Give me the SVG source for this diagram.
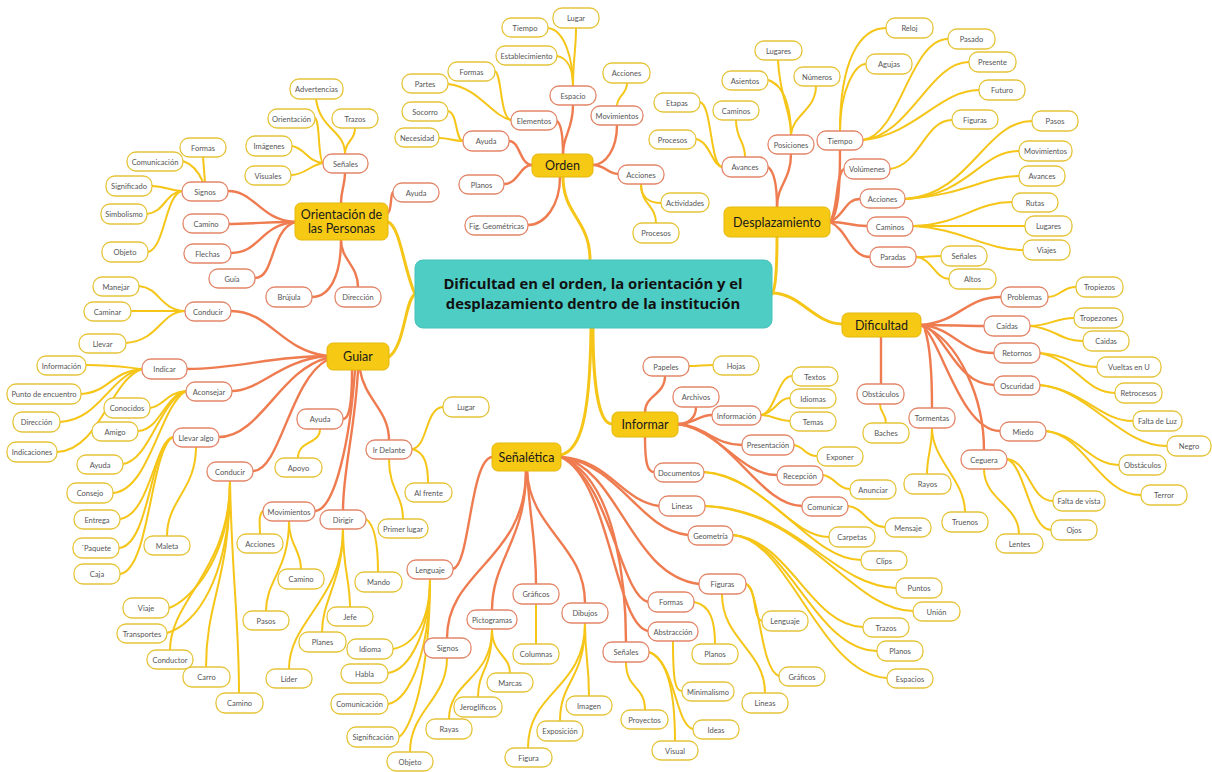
<svg xmlns="http://www.w3.org/2000/svg" width="1212" height="772" viewBox="0 0 1212 772">
<style>
.bg{fill:#ffffff}
.root rect{fill:#4ecdc4;stroke:#45c2b9;stroke-width:1;rx:8px}
.root text{font-family:"Open Sans","Noto Sans",sans-serif;font-weight:700;font-size:14.8px;fill:#111;text-anchor:middle}
.n1 rect{fill:#f6c915;stroke:#e5b70c;stroke-width:1;rx:6px}
.n1 text{font-family:Lato,"Liberation Sans",sans-serif;font-size:12.5px;fill:#1a1a1a;text-anchor:middle}
.n2 rect{fill:#fff;stroke:#e3876a;stroke-width:1.3;rx:9px}
.n3 rect{fill:#fff;stroke:#e6c43a;stroke-width:1.3;rx:9px}
.n2 text,.n3 text{font-family:Lato,"Liberation Sans",sans-serif;font-size:7.5px;fill:#555;text-anchor:middle}
.c1{fill:none;stroke:#f5c518;stroke-width:3;stroke-linecap:round}
.c2{fill:none;stroke:#ef7c50;stroke-width:2.4;stroke-linecap:round}
.c3{fill:none;stroke:#f5c518;stroke-width:2;stroke-linecap:round}
</style>
<rect class="bg" x="0" y="0" width="1212" height="772"/>
<g id="connectors">
<!-- central to main -->
<path class="c1" d="M563 177 C563 215 590 220 590 260"/>
<path class="c1" d="M777 237 C777 270 775 290 772 294"/>
<path class="c1" d="M772 293 C800 293 815 324 842 324"/>
<path class="c1" d="M593 328 C593 380 598 424 612 424"/>
<path class="c1" d="M561 455 C580 450 590 420 591 328"/>
<path class="c1" d="M388 222 C400 226 404 270 415 294"/>
<path class="c1" d="M415 294 C405 300 405 345 389 357"/>
<!-- Orden -->
<path class="c2" d="M573 105 C573 130 563 135 563 154"/>
<path class="c2" d="M557 121 C562 125 563 140 563 154"/>
<path class="c2" d="M617 125 C617 150 605 165 593 165"/>
<path class="c2" d="M593 165 C605 165 608 174 618 174"/>
<path class="c2" d="M532 165 C520 165 520 141 509 141"/>
<path class="c2" d="M532 165 C520 165 518 184 504 184"/>
<path class="c2" d="M560 177 C560 205 545 225 528 225"/>
<path class="c3" d="M573 86 C573 60 576 50 576 28"/>
<path class="c3" d="M548 28 C565 30 573 60 573 86"/>
<path class="c3" d="M557 56 C568 58 573 70 573 86"/>
<path class="c3" d="M617 106 C617 95 627 95 627 83"/>
<path class="c3" d="M495 71 C502 75 500 118 511 120"/>
<path class="c3" d="M448 84 C480 88 490 115 511 120"/>
<path class="c3" d="M448 111 C458 113 455 140 463 141"/>
<path class="c3" d="M439 138 C450 138 452 141 463 141"/>
<path class="c3" d="M641 184 C641 198 650 203 661 203"/>
<path class="c3" d="M641 184 C641 205 656 205 656 223"/>
<!-- Desplazamiento -->
<path class="c2" d="M791 154 C791 180 777 185 777 207"/>
<path class="c2" d="M768 167 C775 172 777 190 777 207"/>
<path class="c2" d="M840 150 C840 190 838 215 830 222"/>
<path class="c2" d="M830 222 C838 210 836 172 844 169"/>
<path class="c2" d="M830 222 C845 215 845 199 860 199"/>
<path class="c2" d="M830 222 C848 222 850 226 867 226"/>
<path class="c2" d="M830 222 C848 230 850 257 870 257"/>
<path class="c3" d="M778 60 C780 100 791 110 791 135"/>
<path class="c3" d="M768 80 C785 85 791 110 791 135"/>
<path class="c3" d="M816 86 C816 110 792 115 791 135"/>
<path class="c3" d="M700 102 C712 105 710 165 722 167"/>
<path class="c3" d="M736 120 C736 140 745 140 745 157"/>
<path class="c3" d="M696 139 C710 142 712 165 722 167"/>
<path class="c3" d="M840 131 C840 60 860 28 886 28"/>
<path class="c3" d="M840 131 C840 90 855 64 866 64"/>
<path class="c3" d="M863 140 C900 135 910 39 948 39"/>
<path class="c3" d="M863 140 C910 135 930 62 969 62"/>
<path class="c3" d="M863 140 C915 135 940 90 979 90"/>
<path class="c3" d="M890 169 C920 165 925 120 952 120"/>
<path class="c3" d="M905 199 C970 195 985 121 1032 121"/>
<path class="c3" d="M905 199 C970 195 980 151 1019 151"/>
<path class="c3" d="M905 199 C965 195 985 176 1019 176"/>
<path class="c3" d="M913 226 C960 225 975 202 1012 202"/>
<path class="c3" d="M913 226 C960 226 990 226 1025 226"/>
<path class="c3" d="M913 226 C960 228 985 250 1023 250"/>
<path class="c3" d="M916 257 C928 257 930 256 941 256"/>
<path class="c3" d="M916 257 C932 258 935 279 949 279"/>
<!-- Dificultad -->
<path class="c2" d="M921 325 C960 322 965 297 1001 297"/>
<path class="c2" d="M921 325 C955 325 960 326 984 326"/>
<path class="c2" d="M921 325 C955 328 960 353 994 353"/>
<path class="c2" d="M921 325 C945 330 955 385 994 385"/>
<path class="c2" d="M921 325 C940 335 960 431 1000 431"/>
<path class="c2" d="M921 325 C960 340 984 400 984 450"/>
<path class="c2" d="M925 330 C930 345 932 380 932 408"/>
<path class="c2" d="M881 337 L881 384"/>
<path class="c3" d="M1048 297 C1060 297 1062 287 1076 287"/>
<path class="c3" d="M1030 326 C1050 326 1055 318 1074 318"/>
<path class="c3" d="M1030 326 C1055 328 1060 341 1083 341"/>
<path class="c3" d="M1040 353 C1070 355 1075 367 1097 367"/>
<path class="c3" d="M1040 353 C1075 360 1085 393 1115 393"/>
<path class="c3" d="M1040 385 C1085 390 1100 421 1133 421"/>
<path class="c3" d="M1040 385 C1090 390 1120 446 1167 446"/>
<path class="c3" d="M1046 431 C1080 435 1090 465 1119 465"/>
<path class="c3" d="M1046 431 C1085 435 1100 495 1141 495"/>
<path class="c3" d="M1007 459 C1030 462 1030 501 1053 501"/>
<path class="c3" d="M1007 459 C1025 465 1030 530 1051 530"/>
<path class="c3" d="M984 469 C984 500 1019 505 1019 534"/>
<path class="c3" d="M932 428 C932 450 927 455 927 474"/>
<path class="c3" d="M932 428 C932 460 965 480 965 512"/>
<path class="c3" d="M880 404 C880 413 886 413 886 423"/>
<!-- Informar -->
<path class="c2" d="M645 412 C645 395 665 395 665 376"/>
<path class="c2" d="M696 407 C696 418 688 424 678 424"/>
<path class="c2" d="M678 424 C695 424 698 415 712 415"/>
<path class="c2" d="M678 424 C705 426 715 445 742 445"/>
<path class="c2" d="M678 424 C720 430 740 475 777 475"/>
<path class="c2" d="M678 424 C730 430 760 506 802 506"/>
<path class="c2" d="M645 437 C645 465 648 472 654 472"/>
<path class="c3" d="M689 366 C700 366 702 365 713 365"/>
<path class="c3" d="M761 415 C775 413 778 376 792 376"/>
<path class="c3" d="M761 415 C775 413 778 398 790 398"/>
<path class="c3" d="M761 415 C775 416 778 421 790 421"/>
<path class="c3" d="M794 445 C805 447 805 456 817 456"/>
<path class="c3" d="M823 475 C835 477 838 489 850 489"/>
<path class="c3" d="M848 506 C865 508 868 527 885 527"/>
<path class="c3" d="M704 472 C760 475 790 537 829 537"/>
<path class="c3" d="M704 472 C770 478 810 560 861 560"/>
<!-- Señalética -->
<path class="c2" d="M492 457 C470 460 470 565 453 569"/>
<path class="c2" d="M526 471 C526 560 447 570 447 638"/>
<path class="c2" d="M526 471 C526 540 492 560 492 610"/>
<path class="c2" d="M527 471 C530 520 536 540 536 584"/>
<path class="c2" d="M527 471 C530 530 585 545 585 603"/>
<path class="c2" d="M561 457 C620 480 626 600 626 642"/>
<path class="c2" d="M561 457 C610 480 615 625 648 631"/>
<path class="c2" d="M561 457 C610 480 620 595 648 602"/>
<path class="c2" d="M561 457 C620 470 630 575 699 584"/>
<path class="c2" d="M561 457 C620 465 640 530 688 535"/>
<path class="c2" d="M561 457 C610 460 620 500 659 506"/>
<path class="c3" d="M430 579 C430 620 415 645 393 649"/>
<path class="c3" d="M430 579 C430 630 410 670 388 673"/>
<path class="c3" d="M430 579 C430 650 410 700 388 704"/>
<path class="c3" d="M430 579 C430 680 410 730 399 737"/>
<path class="c3" d="M447 658 C447 700 410 710 410 752"/>
<path class="c3" d="M492 629 C492 680 449 680 449 719"/>
<path class="c3" d="M492 629 C492 670 478 670 478 697"/>
<path class="c3" d="M492 629 C492 655 510 655 510 673"/>
<path class="c3" d="M536 604 L536 644"/>
<path class="c3" d="M585 623 C585 660 589 660 589 696"/>
<path class="c3" d="M585 623 C585 680 560 680 560 721"/>
<path class="c3" d="M585 623 C585 690 528 690 528 748"/>
<path class="c3" d="M626 662 C626 690 645 685 645 710"/>
<path class="c3" d="M649 652 C670 660 675 700 675 741"/>
<path class="c3" d="M649 652 C675 660 675 725 693 729"/>
<path class="c3" d="M673 641 C673 680 675 691 682 691"/>
<path class="c3" d="M694 602 C710 605 715 620 715 644"/>
<path class="c3" d="M746 584 C757 588 752 618 762 621"/>
<path class="c3" d="M746 584 C760 590 760 670 779 676"/>
<path class="c3" d="M722 594 C722 640 765 650 765 693"/>
<path class="c3" d="M705 506 C800 510 830 585 896 588"/>
<path class="c3" d="M705 506 C810 512 850 610 913 611"/>
<path class="c3" d="M733 535 C790 540 810 625 863 627"/>
<path class="c3" d="M733 535 C790 540 815 650 877 651"/>
<path class="c3" d="M733 535 C790 540 820 675 887 678"/>
<!-- Guiar -->
<path class="c2" d="M327 356 C280 350 270 311 231 311"/>
<path class="c2" d="M327 356 C270 356 240 369 187 369"/>
<path class="c2" d="M327 356 C280 360 260 391 232 391"/>
<path class="c2" d="M327 358 C280 370 260 437 219 437"/>
<path class="c2" d="M327 360 C290 380 280 471 253 471"/>
<path class="c2" d="M352 370 C352 400 350 419 343 419"/>
<path class="c2" d="M355 370 C350 440 335 510 315 511"/>
<path class="c2" d="M358 370 C355 430 343 470 343 510"/>
<path class="c2" d="M360 370 C365 400 389 410 389 440"/>
<path class="c3" d="M185 311 C160 310 160 288 139 286"/>
<path class="c3" d="M185 311 C160 311 150 311 131 311"/>
<path class="c3" d="M185 311 C160 312 160 340 126 343"/>
<path class="c3" d="M142 369 C115 366 110 365 86 365"/>
<path class="c3" d="M142 369 C110 372 110 392 81 394"/>
<path class="c3" d="M142 369 C110 375 100 420 60 422"/>
<path class="c3" d="M142 369 C110 380 100 450 57 452"/>
<path class="c3" d="M186 391 C165 393 165 406 150 408"/>
<path class="c3" d="M186 391 C165 395 160 430 138 431"/>
<path class="c3" d="M186 391 C160 400 150 460 123 464"/>
<path class="c3" d="M186 391 C160 405 150 490 113 493"/>
<path class="c3" d="M173 437 C155 440 150 515 120 519"/>
<path class="c3" d="M173 437 C150 445 150 545 119 548"/>
<path class="c3" d="M173 437 C150 450 150 570 120 574"/>
<path class="c3" d="M196 447 C196 490 167 500 167 536"/>
<path class="c3" d="M230 481 C230 560 190 600 169 608"/>
<path class="c3" d="M230 481 C230 580 195 625 167 633"/>
<path class="c3" d="M230 481 C230 570 170 600 170 650"/>
<path class="c3" d="M230 481 C230 580 206 600 206 667"/>
<path class="c3" d="M230 481 C232 580 239 620 239 693"/>
<path class="c3" d="M320 429 C320 445 298 440 298 458"/>
<path class="c3" d="M412 449 C428 447 425 408 443 407"/>
<path class="c3" d="M412 449 C425 452 428 465 428 483"/>
<path class="c3" d="M389 459 C389 490 403 495 403 519"/>
<path class="c3" d="M263 511 C258 515 260 525 260 534"/>
<path class="c3" d="M289 521 C289 545 301 550 301 569"/>
<path class="c3" d="M289 521 C289 570 266 580 266 611"/>
<path class="c3" d="M366 519 C375 525 378 545 378 572"/>
<path class="c3" d="M343 529 C343 570 350 580 350 607"/>
<path class="c3" d="M343 529 C343 580 322 600 322 632"/>
<path class="c3" d="M343 529 C343 600 289 620 289 669"/>
<!-- Orientación -->
<path class="c2" d="M341 203 C341 190 345 185 345 173"/>
<path class="c2" d="M295 222 C260 220 255 191 228 191"/>
<path class="c2" d="M295 222 C260 222 250 224 229 224"/>
<path class="c2" d="M295 222 C260 225 260 253 231 253"/>
<path class="c2" d="M295 222 C270 230 275 278 255 278"/>
<path class="c2" d="M341 240 C341 275 330 297 312 297"/>
<path class="c2" d="M341 240 C341 260 358 265 358 287"/>
<path class="c2" d="M388 213 C392 210 390 195 393 192"/>
<path class="c3" d="M316 99 C320 130 345 130 345 154"/>
<path class="c3" d="M355 128 C355 142 345 140 345 154"/>
<path class="c3" d="M315 118 C320 120 318 160 323 163"/>
<path class="c3" d="M292 146 C305 148 308 162 323 163"/>
<path class="c3" d="M291 175 C305 175 310 165 323 163"/>
<path class="c3" d="M203 157 L205 182"/>
<path class="c3" d="M183 161 C195 165 200 175 203 182"/>
<path class="c3" d="M152 186 C165 186 170 191 182 191"/>
<path class="c3" d="M147 214 C165 212 165 193 182 191"/>
<path class="c3" d="M148 252 C165 248 165 195 182 191"/>
</g>

<g id="root" class="root"><rect x="415" y="260" width="357" height="68"/><text x="593" y="289">Dificultad en el orden, la orientación y el</text><text x="593" y="309">desplazamiento dentro de la institución</text></g>

<g id="main-orden" class="n1"><rect x="532" y="154" width="61" height="23"/><text x="562.5" y="170">Orden</text></g>
<g id="main-desplazamiento" class="n1"><rect x="724" y="207" width="106" height="30"/><text x="777" y="226.5">Desplazamiento</text></g>
<g id="main-dificultad" class="n1"><rect x="842" y="313" width="79" height="24"/><text x="881.5" y="329.5">Dificultad</text></g>
<g id="main-informar" class="n1"><rect x="612" y="412" width="66" height="25"/><text x="645" y="429">Informar</text></g>
<g id="main-senaletica" class="n1"><rect x="492" y="443" width="69" height="28"/><text x="526.5" y="461.5">Señalética</text></g>
<g id="main-guiar" class="n1"><rect x="327" y="343" width="62" height="27"/><text x="358" y="361">Guiar</text></g>
<g id="main-orientacion" class="n1"><rect x="295" y="203" width="93" height="37"/><text x="341.5" y="219">Orientación de</text><text x="341.5" y="233">las Personas</text></g>

<!-- Orden nodes -->
<g id="espacio" class="n2"><rect x="550" y="86" width="46" height="19"/><text x="573" y="98.5">Espacio</text></g>
<g id="movimientos1" class="n2"><rect x="591" y="106" width="52" height="19"/><text x="617" y="118.5">Movimientos</text></g>
<g id="elementos" class="n2"><rect x="511" y="111" width="46" height="19"/><text x="534" y="123.5">Elementos</text></g>
<g id="ayuda1" class="n2"><rect x="463" y="131" width="46" height="20"/><text x="486" y="144">Ayuda</text></g>
<g id="planos1" class="n2"><rect x="459" y="175" width="45" height="19"/><text x="481.5" y="187.5">Planos</text></g>
<g id="acciones1" class="n2"><rect x="618" y="165" width="46" height="19"/><text x="641" y="177.5">Acciones</text></g>
<g id="figgeom" class="n2"><rect x="465" y="216" width="63" height="19"/><text x="496.5" y="228.5">Fig. Geométricas</text></g>
<g id="lugar1" class="n3"><rect x="553" y="8" width="46" height="20"/><text x="576" y="21">Lugar</text></g>
<g id="tiempo1" class="n3"><rect x="502" y="18" width="46" height="19"/><text x="525" y="30.5">Tiempo</text></g>
<g id="establecimiento" class="n3"><rect x="496" y="46" width="61" height="19"/><text x="526.5" y="58.5">Establecimiento</text></g>
<g id="acciones1b" class="n3"><rect x="603" y="63" width="47" height="20"/><text x="626.5" y="76">Acciones</text></g>
<g id="formas1" class="n3"><rect x="448" y="62" width="47" height="19"/><text x="471.5" y="74.5">Formas</text></g>
<g id="partes" class="n3"><rect x="402" y="74" width="46" height="19"/><text x="425" y="86.5">Partes</text></g>
<g id="socorro" class="n3"><rect x="402" y="102" width="46" height="19"/><text x="425" y="114.5">Socorro</text></g>
<g id="necesidad" class="n3"><rect x="395" y="128" width="44" height="19"/><text x="417" y="140.5">Necesidad</text></g>
<g id="actividades" class="n3"><rect x="661" y="193" width="48" height="19"/><text x="685" y="205.5">Actividades</text></g>
<g id="procesos1" class="n3"><rect x="633" y="223" width="46" height="20"/><text x="656" y="236">Procesos</text></g>

<!-- Desplazamiento nodes -->
<g id="posiciones" class="n2"><rect x="768" y="135" width="46" height="19"/><text x="791" y="147.5">Posiciones</text></g>
<g id="avances" class="n2"><rect x="722" y="157" width="46" height="20"/><text x="745" y="170">Avances</text></g>
<g id="tiempo2" class="n2"><rect x="817" y="131" width="46" height="19"/><text x="840" y="143.5">Tiempo</text></g>
<g id="volumenes" class="n2"><rect x="844" y="159" width="46" height="20"/><text x="867" y="172">Volúmenes</text></g>
<g id="acciones2" class="n2"><rect x="860" y="189" width="45" height="19"/><text x="882.5" y="201.5">Acciones</text></g>
<g id="caminos2" class="n2"><rect x="867" y="217" width="46" height="19"/><text x="890" y="229.5">Caminos</text></g>
<g id="paradas" class="n2"><rect x="870" y="247" width="46" height="20"/><text x="893" y="260">Paradas</text></g>
<g id="lugares2" class="n3"><rect x="755" y="41" width="47" height="19"/><text x="778.5" y="53.5">Lugares</text></g>
<g id="asientos" class="n3"><rect x="722" y="71" width="46" height="19"/><text x="745" y="83.5">Asientos</text></g>
<g id="numeros" class="n3"><rect x="794" y="67" width="46" height="19"/><text x="817" y="79.5">Números</text></g>
<g id="etapas" class="n3"><rect x="654" y="93" width="46" height="19"/><text x="677" y="105.5">Etapas</text></g>
<g id="caminos2b" class="n3"><rect x="713" y="101" width="46" height="19"/><text x="736" y="113.5">Caminos</text></g>
<g id="procesos2" class="n3"><rect x="649" y="130" width="47" height="19"/><text x="672.5" y="142.5">Procesos</text></g>
<g id="reloj" class="n3"><rect x="886" y="18" width="47" height="20"/><text x="909.5" y="31">Reloj</text></g>
<g id="agujas" class="n3"><rect x="866" y="54" width="46" height="20"/><text x="889" y="67">Agujas</text></g>
<g id="pasado" class="n3"><rect x="948" y="29" width="47" height="20"/><text x="971.5" y="42">Pasado</text></g>
<g id="presente" class="n3"><rect x="969" y="52" width="47" height="20"/><text x="992.5" y="65">Presente</text></g>
<g id="futuro" class="n3"><rect x="979" y="80" width="46" height="20"/><text x="1002" y="93">Futuro</text></g>
<g id="figuras2" class="n3"><rect x="952" y="110" width="46" height="19"/><text x="975" y="122.5">Figuras</text></g>
<g id="pasos2" class="n3"><rect x="1032" y="111" width="46" height="20"/><text x="1055" y="124">Pasos</text></g>
<g id="movimientos2" class="n3"><rect x="1019" y="141" width="53" height="20"/><text x="1045.5" y="154">Movimientos</text></g>
<g id="avances2" class="n3"><rect x="1019" y="166" width="46" height="20"/><text x="1042" y="179">Avances</text></g>
<g id="rutas" class="n3"><rect x="1012" y="193" width="46" height="19"/><text x="1035" y="205.5">Rutas</text></g>
<g id="lugares2b" class="n3"><rect x="1025" y="216" width="47" height="20"/><text x="1048.5" y="229">Lugares</text></g>
<g id="viajes" class="n3"><rect x="1023" y="240" width="47" height="20"/><text x="1046.5" y="253">Viajes</text></g>
<g id="senales2" class="n3"><rect x="941" y="246" width="46" height="20"/><text x="964" y="259">Señales</text></g>
<g id="altos" class="n3"><rect x="949" y="269" width="47" height="20"/><text x="972.5" y="282">Altos</text></g>

<!-- Dificultad nodes -->
<g id="problemas" class="n2"><rect x="1001" y="287" width="47" height="20"/><text x="1024.5" y="300">Problemas</text></g>
<g id="caidas" class="n2"><rect x="984" y="316" width="46" height="20"/><text x="1007" y="329">Caídas</text></g>
<g id="retornos" class="n2"><rect x="994" y="343" width="46" height="20"/><text x="1017" y="356">Retornos</text></g>
<g id="oscuridad" class="n2"><rect x="994" y="376" width="46" height="19"/><text x="1017" y="388.5">Oscuridad</text></g>
<g id="miedo" class="n2"><rect x="1000" y="422" width="46" height="19"/><text x="1023" y="434.5">Miedo</text></g>
<g id="ceguera" class="n2"><rect x="961" y="450" width="46" height="19"/><text x="984" y="462.5">Ceguera</text></g>
<g id="tormentas" class="n2"><rect x="909" y="408" width="46" height="20"/><text x="932" y="421">Tormentas</text></g>
<g id="obstaculos" class="n2"><rect x="857" y="384" width="47" height="20"/><text x="880.5" y="397">Obstáculos</text></g>
<g id="tropiezos" class="n3"><rect x="1076" y="277" width="47" height="20"/><text x="1099.5" y="290">Tropiezos</text></g>
<g id="tropezones" class="n3"><rect x="1074" y="308" width="49" height="20"/><text x="1098.5" y="321">Tropezones</text></g>
<g id="caidas2" class="n3"><rect x="1083" y="331" width="46" height="20"/><text x="1106" y="344">Caidas</text></g>
<g id="vueltas" class="n3"><rect x="1097" y="357" width="64" height="20"/><text x="1129" y="370">Vueltas en U</text></g>
<g id="retrocesos" class="n3"><rect x="1115" y="383" width="47" height="20"/><text x="1138.5" y="396">Retrocesos</text></g>
<g id="faltaluz" class="n3"><rect x="1133" y="411" width="49" height="20"/><text x="1157.5" y="424">Falta de Luz</text></g>
<g id="negro" class="n3"><rect x="1167" y="436" width="44" height="20"/><text x="1189" y="449">Negro</text></g>
<g id="obstaculos2" class="n3"><rect x="1119" y="455" width="47" height="20"/><text x="1142.5" y="468">Obstáculos</text></g>
<g id="terror" class="n3"><rect x="1141" y="485" width="46" height="20"/><text x="1164" y="498">Terror</text></g>
<g id="faltavista" class="n3"><rect x="1053" y="491" width="52" height="20"/><text x="1079" y="504">Falta de vista</text></g>
<g id="ojos" class="n3"><rect x="1051" y="520" width="46" height="20"/><text x="1074" y="533">Ojos</text></g>
<g id="lentes" class="n3"><rect x="996" y="534" width="47" height="19"/><text x="1019.5" y="546.5">Lentes</text></g>
<g id="rayos1" class="n3"><rect x="904" y="474" width="47" height="20"/><text x="927.5" y="487">Rayos</text></g>
<g id="truenos" class="n3"><rect x="942" y="512" width="46" height="20"/><text x="965" y="525">Truenos</text></g>
<g id="baches" class="n3"><rect x="863" y="423" width="46" height="20"/><text x="886" y="436">Baches</text></g>

<!-- Informar nodes -->
<g id="papeles" class="n2"><rect x="643" y="357" width="46" height="19"/><text x="666" y="369.5">Papeles</text></g>
<g id="archivos" class="n2"><rect x="673" y="387" width="46" height="20"/><text x="696" y="400">Archivos</text></g>
<g id="informacion" class="n2"><rect x="712" y="406" width="49" height="19"/><text x="736.5" y="418.5">Información</text></g>
<g id="presentacion" class="n2"><rect x="742" y="435" width="52" height="20"/><text x="768" y="448">Presentación</text></g>
<g id="recepcion" class="n2"><rect x="777" y="466" width="46" height="19"/><text x="800" y="478.5">Recepción</text></g>
<g id="comunicar" class="n2"><rect x="802" y="497" width="46" height="19"/><text x="825" y="509.5">Comunicar</text></g>
<g id="documentos" class="n2"><rect x="654" y="463" width="50" height="19"/><text x="679" y="475.5">Documentos</text></g>
<g id="hojas" class="n3"><rect x="713" y="356" width="46" height="19"/><text x="736" y="368.5">Hojas</text></g>
<g id="textos" class="n3"><rect x="792" y="367" width="46" height="19"/><text x="815" y="379.5">Textos</text></g>
<g id="idiomas" class="n3"><rect x="790" y="389" width="46" height="19"/><text x="813" y="401.5">Idiomas</text></g>
<g id="temas" class="n3"><rect x="790" y="412" width="46" height="19"/><text x="813" y="424.5">Temas</text></g>
<g id="exponer" class="n3"><rect x="817" y="447" width="46" height="19"/><text x="840" y="459.5">Exponer</text></g>
<g id="anunciar" class="n3"><rect x="850" y="480" width="46" height="19"/><text x="873" y="492.5">Anunciar</text></g>
<g id="mensaje" class="n3"><rect x="885" y="518" width="46" height="19"/><text x="908" y="530.5">Mensaje</text></g>
<g id="carpetas" class="n3"><rect x="829" y="527" width="46" height="20"/><text x="852" y="540">Carpetas</text></g>
<g id="clips" class="n3"><rect x="861" y="551" width="46" height="19"/><text x="884" y="563.5">Clips</text></g>

<!-- Señalética nodes -->
<g id="lenguaje" class="n2"><rect x="407" y="560" width="46" height="19"/><text x="430" y="572.5">Lenguaje</text></g>
<g id="lineas" class="n2"><rect x="659" y="496" width="46" height="20"/><text x="682" y="509">Lineas</text></g>
<g id="geometria" class="n2"><rect x="688" y="526" width="45" height="19"/><text x="710.5" y="538.5">Geometría</text></g>
<g id="figuras3" class="n2"><rect x="699" y="574" width="47" height="20"/><text x="722.5" y="587">Figuras</text></g>
<g id="formas3" class="n2"><rect x="648" y="592" width="46" height="20"/><text x="671" y="605">Formas</text></g>
<g id="abstraccion" class="n2"><rect x="648" y="622" width="50" height="19"/><text x="673" y="634.5">Abstracción</text></g>
<g id="senales3" class="n2"><rect x="603" y="642" width="46" height="20"/><text x="626" y="655">Señales</text></g>
<g id="dibujos" class="n2"><rect x="562" y="603" width="46" height="20"/><text x="585" y="616">Dibujos</text></g>
<g id="graficos" class="n2"><rect x="513" y="584" width="46" height="20"/><text x="536" y="597">Gráficos</text></g>
<g id="pictogramas" class="n2"><rect x="467" y="610" width="50" height="19"/><text x="492" y="622.5">Pictogramas</text></g>
<g id="signos3" class="n2"><rect x="424" y="638" width="47" height="20"/><text x="447.5" y="651">Signos</text></g>
<g id="idioma" class="n3"><rect x="347" y="639" width="46" height="20"/><text x="370" y="652">Idioma</text></g>
<g id="habla" class="n3"><rect x="341" y="664" width="47" height="19"/><text x="364.5" y="676.5">Habla</text></g>
<g id="comunicacion3" class="n3"><rect x="331" y="694" width="57" height="20"/><text x="359.5" y="707">Comunicación</text></g>
<g id="significacion" class="n3"><rect x="347" y="727" width="52" height="20"/><text x="373" y="740">Significación</text></g>
<g id="objeto3" class="n3"><rect x="387" y="752" width="46" height="19"/><text x="410" y="764.5">Objeto</text></g>
<g id="rayos3" class="n3"><rect x="426" y="719" width="46" height="20"/><text x="449" y="732">Rayas</text></g>
<g id="jeroglificos" class="n3"><rect x="454" y="697" width="48" height="20"/><text x="478" y="710">Jeroglíficos</text></g>
<g id="marcas" class="n3"><rect x="487" y="673" width="46" height="19"/><text x="510" y="685.5">Marcas</text></g>
<g id="columnas" class="n3"><rect x="513" y="644" width="46" height="20"/><text x="536" y="657">Columnas</text></g>
<g id="imagen" class="n3"><rect x="566" y="696" width="46" height="19"/><text x="589" y="708.5">Imagen</text></g>
<g id="exposicion" class="n3"><rect x="537" y="721" width="46" height="20"/><text x="560" y="734">Exposición</text></g>
<g id="figura" class="n3"><rect x="505" y="748" width="47" height="19"/><text x="528.5" y="760.5">Figura</text></g>
<g id="proyectos" class="n3"><rect x="621" y="710" width="47" height="19"/><text x="644.5" y="722.5">Proyectos</text></g>
<g id="visual" class="n3"><rect x="652" y="741" width="46" height="19"/><text x="675" y="753.5">Visual</text></g>
<g id="ideas" class="n3"><rect x="693" y="720" width="46" height="19"/><text x="716" y="732.5">Ideas</text></g>
<g id="minimalismo" class="n3"><rect x="682" y="682" width="52" height="19"/><text x="708" y="694.5">Minimalismo</text></g>
<g id="planos3" class="n3"><rect x="692" y="644" width="46" height="20"/><text x="715" y="657">Planos</text></g>
<g id="lenguaje3" class="n3"><rect x="762" y="611" width="46" height="20"/><text x="785" y="624">Lenguaje</text></g>
<g id="graficos3" class="n3"><rect x="779" y="667" width="46" height="19"/><text x="802" y="679.5">Gráficos</text></g>
<g id="lineas3" class="n3"><rect x="742" y="693" width="46" height="20"/><text x="765" y="706">Lineas</text></g>
<g id="puntos" class="n3"><rect x="896" y="578" width="46" height="20"/><text x="919" y="591">Puntos</text></g>
<g id="union" class="n3"><rect x="913" y="602" width="47" height="19"/><text x="936.5" y="614.5">Unión</text></g>
<g id="trazos3" class="n3"><rect x="863" y="618" width="46" height="19"/><text x="886" y="630.5">Trazos</text></g>
<g id="planos4" class="n3"><rect x="877" y="641" width="46" height="20"/><text x="900" y="654">Planos</text></g>
<g id="espacios" class="n3"><rect x="887" y="669" width="46" height="19"/><text x="910" y="681.5">Espacios</text></g>

<!-- Guiar nodes -->
<g id="conducir1" class="n2"><rect x="185" y="302" width="46" height="19"/><text x="208" y="314.5">Conducir</text></g>
<g id="indicar" class="n2"><rect x="142" y="359" width="45" height="20"/><text x="164.5" y="372">Indicar</text></g>
<g id="aconsejar" class="n2"><rect x="186" y="382" width="46" height="19"/><text x="209" y="394.5">Aconsejar</text></g>
<g id="llevaralgo" class="n2"><rect x="173" y="428" width="46" height="19"/><text x="196" y="440.5">Llevar algo</text></g>
<g id="conducir2" class="n2"><rect x="207" y="462" width="46" height="19"/><text x="230" y="474.5">Conducir</text></g>
<g id="ayuda4" class="n2"><rect x="297" y="409" width="46" height="20"/><text x="320" y="422">Ayuda</text></g>
<g id="irdelante" class="n2"><rect x="366" y="440" width="46" height="19"/><text x="389" y="452.5">Ir Delante</text></g>
<g id="movimientos4" class="n2"><rect x="263" y="502" width="52" height="19"/><text x="289" y="514.5">Movimientos</text></g>
<g id="dirigir" class="n2"><rect x="320" y="510" width="46" height="19"/><text x="343" y="522.5">Dirigir</text></g>
<g id="manejar" class="n3"><rect x="93" y="277" width="46" height="19"/><text x="116" y="289.5">Manejar</text></g>
<g id="caminar" class="n3"><rect x="84" y="302" width="47" height="19"/><text x="107.5" y="314.5">Caminar</text></g>
<g id="llevar" class="n3"><rect x="79" y="334" width="47" height="19"/><text x="102.5" y="346.5">Llevar</text></g>
<g id="informacion4" class="n3"><rect x="37" y="356" width="49" height="19"/><text x="61.5" y="368.5">Información</text></g>
<g id="puntoencuentro" class="n3"><rect x="7" y="384" width="74" height="20"/><text x="44" y="397">Punto de encuentro</text></g>
<g id="direccion4" class="n3"><rect x="13" y="412" width="47" height="20"/><text x="36.5" y="425">Dirección</text></g>
<g id="indicaciones" class="n3"><rect x="7" y="442" width="50" height="20"/><text x="32" y="455">Indicaciones</text></g>
<g id="conocidos" class="n3"><rect x="104" y="398" width="46" height="20"/><text x="127" y="411">Conocidos</text></g>
<g id="amigo" class="n3"><rect x="92" y="422" width="46" height="19"/><text x="115" y="434.5">Amigo</text></g>
<g id="ayuda5" class="n3"><rect x="77" y="455" width="46" height="19"/><text x="100" y="467.5">Ayuda</text></g>
<g id="consejo" class="n3"><rect x="67" y="483" width="46" height="20"/><text x="90" y="496">Consejo</text></g>
<g id="entrega" class="n3"><rect x="74" y="510" width="46" height="19"/><text x="97" y="522.5">Entrega</text></g>
<g id="paquete" class="n3"><rect x="73" y="538" width="46" height="20"/><text x="96" y="551">´Paquete</text></g>
<g id="caja" class="n3"><rect x="74" y="564" width="46" height="20"/><text x="97" y="577">Caja</text></g>
<g id="maleta" class="n3"><rect x="144" y="536" width="46" height="19"/><text x="167" y="548.5">Maleta</text></g>
<g id="viaje" class="n3"><rect x="123" y="598" width="46" height="20"/><text x="146" y="611">Viaje</text></g>
<g id="transportes" class="n3"><rect x="117" y="624" width="50" height="19"/><text x="142" y="636.5">Transportes</text></g>
<g id="conductor" class="n3"><rect x="147" y="650" width="46" height="19"/><text x="170" y="662.5">Conductor</text></g>
<g id="carro" class="n3"><rect x="183" y="667" width="47" height="20"/><text x="206.5" y="680">Carro</text></g>
<g id="camino4" class="n3"><rect x="216" y="693" width="47" height="20"/><text x="239.5" y="706">Camino</text></g>
<g id="apoyo" class="n3"><rect x="275" y="458" width="47" height="19"/><text x="298.5" y="470.5">Apoyo</text></g>
<g id="lugar4" class="n3"><rect x="443" y="397" width="46" height="20"/><text x="466" y="410">Lugar</text></g>
<g id="alfrente" class="n3"><rect x="405" y="483" width="47" height="19"/><text x="428.5" y="495.5">Al frente</text></g>
<g id="primerlugar" class="n3"><rect x="378" y="519" width="50" height="19"/><text x="403" y="531.5">Primer lugar</text></g>
<g id="acciones4" class="n3"><rect x="237" y="534" width="46" height="19"/><text x="260" y="546.5">Acciones</text></g>
<g id="camino5" class="n3"><rect x="278" y="569" width="46" height="20"/><text x="301" y="582">Camino</text></g>
<g id="pasos4" class="n3"><rect x="243" y="611" width="46" height="19"/><text x="266" y="623.5">Pasos</text></g>
<g id="mando" class="n3"><rect x="355" y="572" width="47" height="20"/><text x="378.5" y="585">Mando</text></g>
<g id="jefe" class="n3"><rect x="327" y="607" width="46" height="19"/><text x="350" y="619.5">Jefe</text></g>
<g id="planes" class="n3"><rect x="299" y="632" width="47" height="20"/><text x="322.5" y="645">Planes</text></g>
<g id="lider" class="n3"><rect x="266" y="669" width="46" height="19"/><text x="289" y="681.5">Líder</text></g>

<!-- Orientación nodes -->
<g id="senales5" class="n2"><rect x="323" y="154" width="45" height="19"/><text x="345.5" y="166.5">Señales</text></g>
<g id="signos5" class="n2"><rect x="182" y="182" width="46" height="19"/><text x="205" y="194.5">Signos</text></g>
<g id="camino6" class="n2"><rect x="183" y="214" width="46" height="19"/><text x="206" y="226.5">Camino</text></g>
<g id="flechas" class="n2"><rect x="184" y="244" width="47" height="19"/><text x="207.5" y="256.5">Flechas</text></g>
<g id="guia" class="n2"><rect x="209" y="269" width="46" height="19"/><text x="232" y="281.5">Guía</text></g>
<g id="brujula" class="n2"><rect x="266" y="287" width="46" height="20"/><text x="289" y="300">Brújula</text></g>
<g id="direccion5" class="n2"><rect x="335" y="287" width="46" height="20"/><text x="358" y="300">Dirección</text></g>
<g id="ayuda6" class="n2"><rect x="393" y="183" width="46" height="19"/><text x="416" y="195.5">Ayuda</text></g>
<g id="advertencias" class="n3"><rect x="290" y="79" width="53" height="20"/><text x="316.5" y="92">Advertencias</text></g>
<g id="orientacion6" class="n3"><rect x="268" y="109" width="47" height="19"/><text x="291.5" y="121.5">Orientación</text></g>
<g id="trazos6" class="n3"><rect x="332" y="109" width="46" height="19"/><text x="355" y="121.5">Trazos</text></g>
<g id="imagenes" class="n3"><rect x="246" y="136" width="46" height="20"/><text x="269" y="149">Imágenes</text></g>
<g id="visuales" class="n3"><rect x="245" y="166" width="46" height="19"/><text x="268" y="178.5">Visuales</text></g>
<g id="formas6" class="n3"><rect x="180" y="138" width="46" height="19"/><text x="203" y="150.5">Formas</text></g>
<g id="comunicacion6" class="n3"><rect x="127" y="152" width="56" height="19"/><text x="155" y="164.5">Comunicación</text></g>
<g id="significado" class="n3"><rect x="106" y="176" width="46" height="20"/><text x="129" y="189">Significado</text></g>
<g id="simbolismo" class="n3"><rect x="101" y="204" width="46" height="20"/><text x="124" y="217">Simbolismo</text></g>
<g id="objeto6" class="n3"><rect x="102" y="242" width="46" height="20"/><text x="125" y="255">Objeto</text></g>
</svg>
